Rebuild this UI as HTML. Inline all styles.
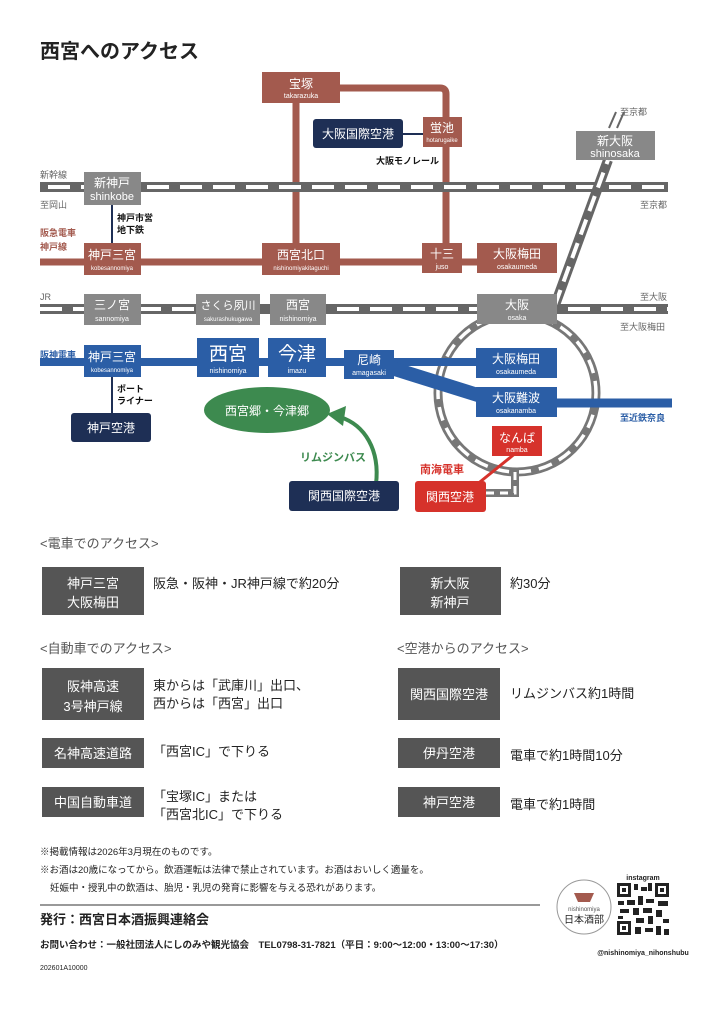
<!DOCTYPE html>
<html><head><meta charset="utf-8"><style>
html,body{margin:0;padding:0;background:#fff;}
svg{display:block;font-family:"Liberation Sans","Noto Sans CJK JP",sans-serif;}
</style></head><body>
<svg width="719" height="1024" viewBox="0 0 719 1024" xmlns="http://www.w3.org/2000/svg">
<rect width="719" height="1024" fill="#fff"/>
<text x="40" y="58" font-size="20" font-weight="bold" fill="#222">西宮へのアクセス</text>

<!-- Hankyu brown lines -->
<g stroke="#a35a4e" stroke-width="7" fill="none">
<path d="M300 88 H440 Q446 88 446 94 V262"/>
<line x1="296" y1="100" x2="296" y2="250"/>
<line x1="40" y1="262" x2="500" y2="262"/>
</g>
<line x1="400" y1="134" x2="424" y2="134" stroke="#1e2f55" stroke-width="2"/>
<line x1="112" y1="200" x2="112" y2="245" stroke="#1e2f55" stroke-width="2"/>
<line x1="112" y1="372" x2="112" y2="415" stroke="#1e2f55" stroke-width="2"/>

<!-- tracks -->
<g fill="none">
<line x1="40" y1="187" x2="668" y2="187" stroke="#666" stroke-width="10"/>
<line x1="40" y1="187" x2="668" y2="187" stroke="#fff" stroke-width="4" stroke-dasharray="22 11" stroke-dashoffset="-8"/>
<line x1="40" y1="309" x2="668" y2="309" stroke="#666" stroke-width="10"/>
<line x1="40" y1="309" x2="668" y2="309" stroke="#fff" stroke-width="4" stroke-dasharray="22 11"/>
<line x1="555" y1="305" x2="608" y2="160" stroke="#666" stroke-width="10"/>
<line x1="555" y1="305" x2="608" y2="160" stroke="#fff" stroke-width="4" stroke-dasharray="16 9"/>
<line x1="609" y1="128" x2="616" y2="112" stroke="#666" stroke-width="2"/>
<line x1="617" y1="128" x2="624" y2="112" stroke="#666" stroke-width="2"/>
<circle cx="517" cy="393" r="79" stroke="#777" stroke-width="9"/>
<circle cx="517" cy="393" r="79" stroke="#fff" stroke-width="3.5" stroke-dasharray="14 8"/>
<path d="M515 470 V493 H486" stroke="#777" stroke-width="8"/>
<path d="M515 472 V493 H486" stroke="#fff" stroke-width="3" stroke-dasharray="8 6"/>
</g>

<!-- Hanshin blue -->
<g stroke="#2b5ea6" fill="none">
<line x1="40" y1="362" x2="500" y2="362" stroke-width="8"/>
<line x1="385" y1="366" x2="500" y2="402" stroke-width="14"/>
<line x1="540" y1="403" x2="672" y2="403" stroke-width="9"/>
</g>

<!-- green arrow -->
<path d="M376 484 C380 450 365 425 340 417" stroke="#3d8a4f" stroke-width="4" fill="none"/>
<polygon points="327,414 346,406 343,426" fill="#3d8a4f"/>
<ellipse cx="267" cy="410" rx="63" ry="23" fill="#3d8a4f"/>
<text x="267" y="415" font-size="12" fill="#fff" text-anchor="middle">西宮郷・今津郷</text>
<text x="300" y="461" font-size="11" fill="#3d8a4f" font-weight="bold">リムジンバス</text>

<!-- red -->
<line x1="517" y1="452" x2="470" y2="490" stroke="#d6322b" stroke-width="3"/>
<text x="420" y="473" font-size="11" fill="#d6322b" font-weight="bold">南海電車</text>
<rect x="415" y="481" width="71" height="31" rx="3" fill="#d6322b"/>
<text x="450" y="501" font-size="12" fill="#fff" text-anchor="middle">関西空港</text>
<rect x="492" y="426" width="50" height="30" fill="#d6322b"/>
<text x="517" y="442" font-size="12" fill="#fff" text-anchor="middle">なんば</text>
<text x="517" y="452" font-size="7" fill="#fff" text-anchor="middle">namba</text>

<!-- station boxes -->
<g text-anchor="middle" fill="#fff">
<rect x="262" y="72" width="78" height="31" fill="#a35a4e"/>
<text x="301" y="88" font-size="12" fill="#fff">宝塚</text><text x="301" y="98" font-size="7" fill="#fff">takarazuka</text>
<rect x="423" y="117" width="39" height="30" fill="#a35a4e"/>
<text x="442" y="132" font-size="12" fill="#fff">蛍池</text><text x="442" y="142" font-size="6" fill="#fff">hotarugaike</text>
<rect x="313" y="119" width="90" height="29" rx="3" fill="#1e2f55"/>
<text x="358" y="138" font-size="12" fill="#fff">大阪国際空港</text>
<rect x="84" y="172" width="57" height="33" fill="#888"/>
<text x="112" y="187" font-size="12" fill="#fff">新神戸</text><text x="112" y="200" font-size="11" fill="#fff">shinkobe</text>
<rect x="576" y="131" width="79" height="29" fill="#888"/>
<text x="615" y="145" font-size="12" fill="#fff">新大阪</text><text x="615" y="157" font-size="11" fill="#fff">shinosaka</text>
<rect x="84" y="243" width="57" height="32" fill="#a35a4e"/>
<text x="112" y="259" font-size="12" fill="#fff">神戸三宮</text><text x="112" y="270" font-size="6" fill="#fff">kobesannomiya</text>
<rect x="262" y="243" width="78" height="32" fill="#a35a4e"/>
<text x="301" y="259" font-size="12" fill="#fff">西宮北口</text><text x="301" y="270" font-size="6" fill="#fff">nishinomiyakitaguchi</text>
<rect x="422" y="243" width="40" height="30" fill="#a35a4e"/>
<text x="442" y="258" font-size="12" fill="#fff">十三</text><text x="442" y="269" font-size="7" fill="#fff">juso</text>
<rect x="477" y="243" width="80" height="30" fill="#a35a4e"/>
<text x="517" y="258" font-size="12" fill="#fff">大阪梅田</text><text x="517" y="269" font-size="7" fill="#fff">osakaumeda</text>
<rect x="84" y="294" width="57" height="31" fill="#888"/>
<text x="112" y="309" font-size="12" fill="#fff">三ノ宮</text><text x="112" y="321" font-size="7" fill="#fff">sannomiya</text>
<rect x="196" y="294" width="64" height="31" fill="#888"/>
<text x="228" y="309" font-size="11" fill="#fff">さくら夙川</text><text x="228" y="321" font-size="6" fill="#fff">sakurashukugawa</text>
<rect x="270" y="294" width="56" height="31" fill="#888"/>
<text x="298" y="309" font-size="12" fill="#fff">西宮</text><text x="298" y="321" font-size="7" fill="#fff">nishinomiya</text>
<rect x="477" y="294" width="80" height="30" fill="#888"/>
<text x="517" y="309" font-size="12" fill="#fff">大阪</text><text x="517" y="320" font-size="7" fill="#fff">osaka</text>
<rect x="84" y="345" width="57" height="32" fill="#2b5ea6"/>
<text x="112" y="361" font-size="12" fill="#fff">神戸三宮</text><text x="112" y="372" font-size="6" fill="#fff">kobesannomiya</text>
<rect x="197" y="338" width="62" height="39" fill="#2b5ea6"/>
<text x="228" y="360" font-size="19" fill="#fff">西宮</text><text x="228" y="373" font-size="7" fill="#fff">nishinomiya</text>
<rect x="268" y="338" width="58" height="39" fill="#2b5ea6"/>
<text x="297" y="360" font-size="19" fill="#fff">今津</text><text x="297" y="373" font-size="7" fill="#fff">imazu</text>
<rect x="344" y="350" width="50" height="29" fill="#2b5ea6"/>
<text x="369" y="364" font-size="12" fill="#fff">尼崎</text><text x="369" y="375" font-size="7" fill="#fff">amagasaki</text>
<rect x="476" y="348" width="81" height="30" fill="#2b5ea6"/>
<text x="516" y="363" font-size="12" fill="#fff">大阪梅田</text><text x="516" y="374" font-size="7" fill="#fff">osakaumeda</text>
<rect x="476" y="387" width="81" height="30" fill="#2b5ea6"/>
<text x="516" y="402" font-size="12" fill="#fff">大阪難波</text><text x="516" y="413" font-size="7" fill="#fff">osakanamba</text>
<rect x="71" y="413" width="80" height="29" rx="3" fill="#1e2f55"/>
<text x="111" y="432" font-size="12" fill="#fff">神戸空港</text>
<rect x="289" y="481" width="110" height="30" rx="3" fill="#1e2f55"/>
<text x="344" y="500" font-size="12" fill="#fff">関西国際空港</text>
</g>

<!-- small labels -->
<g font-size="9" fill="#666">
<text x="40" y="178">新幹線</text><text x="40" y="208">至岡山</text>
<text x="40" y="300">JR</text>
<text x="640" y="208">至京都</text><text x="620" y="115">至京都</text>
<text x="640" y="300">至大阪</text><text x="620" y="330">至大阪梅田</text>
</g>
<g font-size="9" fill="#a35a4e" font-weight="bold"><text x="40" y="236">阪急電車</text><text x="40" y="250">神戸線</text></g>
<text x="40" y="358" font-size="9" fill="#2b5ea6" font-weight="bold">阪神電車</text>
<text x="620" y="421" font-size="9" fill="#2b5ea6" font-weight="bold">至近鉄奈良</text>
<g font-size="9" fill="#111" font-weight="bold">
<text x="117" y="221">神戸市営</text><text x="117" y="233">地下鉄</text>
<text x="117" y="392">ポート</text><text x="117" y="404">ライナー</text>
<text x="376" y="164">大阪モノレール</text>
</g>

<!-- access sections -->
<g font-size="13" fill="#555">
<text x="40" y="548">&lt;電車でのアクセス&gt;</text>
<text x="40" y="653">&lt;自動車でのアクセス&gt;</text>
<text x="397" y="653">&lt;空港からのアクセス&gt;</text>
</g>
<g fill="#555">
<rect x="42" y="567" width="102" height="48"/><rect x="400" y="567" width="101" height="48"/>
<rect x="42" y="668" width="102" height="52"/><rect x="42" y="738" width="102" height="30"/><rect x="42" y="787" width="102" height="30"/>
<rect x="398" y="668" width="102" height="52"/><rect x="398" y="738" width="102" height="30"/><rect x="398" y="787" width="102" height="30"/>
</g>
<g font-size="13" fill="#fff" text-anchor="middle">
<text x="93" y="588">神戸三宮</text><text x="93" y="607">大阪梅田</text>
<text x="450" y="588">新大阪</text><text x="450" y="607">新神戸</text>
<text x="93" y="691">阪神高速</text><text x="93" y="711">3号神戸線</text>
<text x="93" y="758">名神高速道路</text><text x="93" y="807">中国自動車道</text>
<text x="449" y="699">関西国際空港</text><text x="449" y="758">伊丹空港</text><text x="449" y="807">神戸空港</text>
</g>
<g font-size="13" fill="#222">
<text x="153" y="588">阪急・阪神・JR神戸線で約20分</text>
<text x="510" y="588">約30分</text>
<text x="153" y="690">東からは「武庫川」出口、</text><text x="153" y="708">西からは「西宮」出口</text>
<text x="153" y="756">「西宮IC」で下りる</text>
<text x="153" y="801">「宝塚IC」または</text><text x="153" y="819">「西宮北IC」で下りる</text>
<text x="510" y="698">リムジンバス約1時間</text>
<text x="510" y="760">電車で約1時間10分</text>
<text x="510" y="809">電車で約1時間</text>
</g>

<!-- footer -->
<g font-size="9.5" fill="#222">
<text x="40" y="855">※掲載情報は2026年3月現在のものです。</text>
<text x="40" y="873">※お酒は20歳になってから。飲酒運転は法律で禁止されています。お酒はおいしく適量を。</text>
<text x="50" y="891">妊娠中・授乳中の飲酒は、胎児・乳児の発育に影響を与える恐れがあります。</text>
</g>
<line x1="40" y1="905" x2="540" y2="905" stroke="#333" stroke-width="1"/>
<text x="40" y="924" font-size="13" font-weight="bold" fill="#222">発行：西宮日本酒振興連絡会</text>
<text x="40" y="948" font-size="9.5" font-weight="bold" fill="#222">お問い合わせ：一般社団法人にしのみや観光協会　TEL0798-31-7821（平日：9:00〜12:00・13:00〜17:30）</text>
<text x="40" y="970" font-size="7" fill="#222">202601A10000</text>
<circle cx="584" cy="907" r="27" fill="#fff" stroke="#999" stroke-width="1"/>
<path d="M574 893 H594 L590 902 H578 Z" fill="#a35a4e"/>
<text x="584" y="911" font-size="6" fill="#555" text-anchor="middle">nishinomiya</text>
<text x="584" y="923" font-size="10" fill="#222" text-anchor="middle">日本酒部</text>
<text x="643" y="880" font-size="7" fill="#222" text-anchor="middle" font-weight="bold">instagram</text>
<g fill="#222">
<rect x="617" y="883" width="52" height="52" fill="#fff"/>
<rect x="617" y="883" width="14" height="14"/><rect x="620" y="886" width="8" height="8" fill="#fff"/><rect x="622" y="888" width="4" height="4"/>
<rect x="655" y="883" width="14" height="14"/><rect x="658" y="886" width="8" height="8" fill="#fff"/><rect x="660" y="888" width="4" height="4"/>
<rect x="617" y="921" width="14" height="14"/><rect x="620" y="924" width="8" height="8" fill="#fff"/><rect x="622" y="926" width="4" height="4"/>
<rect x="634" y="884" width="4" height="6"/><rect x="641" y="887" width="6" height="4"/><rect x="648" y="883" width="4" height="8"/>
<rect x="618" y="901" width="6" height="4"/><rect x="627" y="900" width="8" height="5"/><rect x="638" y="896" width="5" height="9"/><rect x="646" y="899" width="8" height="4"/><rect x="658" y="901" width="10" height="5"/>
<rect x="620" y="909" width="9" height="4"/><rect x="633" y="908" width="6" height="7"/><rect x="643" y="908" width="9" height="5"/><rect x="656" y="910" width="6" height="7"/>
<rect x="618" y="916" width="5" height="3"/><rect x="636" y="918" width="8" height="5"/><rect x="648" y="916" width="5" height="8"/><rect x="663" y="919" width="6" height="4"/>
<rect x="635" y="927" width="6" height="7"/><rect x="645" y="928" width="8" height="4"/><rect x="656" y="926" width="5" height="9"/><rect x="664" y="929" width="5" height="6"/>
</g>
<text x="643" y="955" font-size="7" fill="#222" text-anchor="middle" font-weight="bold">@nishinomiya_nihonshubu</text>
</svg>
</body></html>
